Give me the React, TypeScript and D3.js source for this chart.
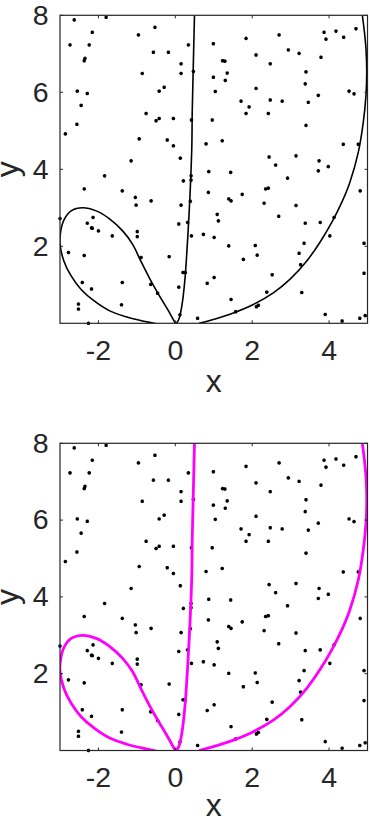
import * as d3 from "d3";

// tick values
const xTicks = [-2, 0, 2, 4];
const yTicks = [2, 4, 6, 8];

// scattered sample points
const ptX = [
  -2.63, -1.8, -0.53, -2.16, -0.96, 2.7, 3.87, 4.18, 4.7, 3.92, 4.38, 1.84, -2.74, -2.24, 0.34, 0.99,
  -0.57, -0.18, 2.94, 3.22, 2.1, -2.35, -2.37, 0.15, 1.23, 1.29, 3.79, 2.47, -0.86, 0.15, 0.47, 0.99,
  1.35, 3.4, 1.3, -0.29, -0.42, -2.55, -2.29, 2.1, 1.04, 4.52, 4.65, 3.38, 2.47, 3.72, 2.78, 1.71,
  3.46, -2.45, 1.92, 1.84, 2.42, -0.76, -0.05, -0.42, -0.5, 0.96, 0.42, -2.56, 3.4, -2.86, -0.94, -0.21,
  -0.05, 0.8, 1.22, 4.37, 4.76, 0.13, -1.15, 2.44, 3.14, 3.74, 2.61, 3.98, -1.84, 0.87, 1.44, 3.72,
  0.41, 0.41, 0.21, 2.92, -2.37, -1.38, 0.86, 2.35, 2.42, 4.81, 1.74, -1.04, -0.63, 1.39, 1.45, 0.39,
  2.31, -1.02, 0.15, 3.14, 1.09, 2.69, -3.0, -2.14, 1.12, -2.29, 3.38, 3.77, 4.13, 0.32, 0.09, -2.18,
  -2.16, -2.0, -0.99, -0.99, -1.64, 0.73, 1.01, 0.42, 4.02, 4.91, 3.35, 2.08, 1.39, -2.78, -2.37, -0.89,
  -0.16, 1.77, 2.13, 3.22, 3.26, 0.2, 0.26, 4.91, 1.01, 2.52, -2.42, -1.38, 0.83, -0.64, 0.09, -2.18,
  -0.46, 2.38, 3.29, 1.45, -1.4, -2.52, -2.52, 2.11, 2.16, 1.57, 0.12, 3.9, 4.8, 4.94, 0.58, -2.26, 4.34,
];
const ptY = [
  7.88, 7.95, 7.69, 7.56, 7.49, 7.49, 7.56, 7.59, 7.65, 7.38, 7.43, 7.4, 7.23, 7.23, 7.23, 7.26,
  7.04, 7.04, 7.1, 7.01, 6.97, 6.88, 6.82, 6.74, 6.82, 6.81, 6.91, 6.74, 6.49, 6.49, 6.54, 6.39,
  6.5, 6.53, 6.31, 6.13, 6.03, 6.03, 5.97, 6.1, 6.02, 6.03, 5.96, 6.22, 5.8, 5.92, 5.77, 5.77,
  5.74, 5.66, 5.62, 5.45, 5.45, 5.45, 5.32, 5.32, 5.26, 5.28, 5.28, 5.17, 5.14, 4.92, 4.79, 4.76,
  4.61, 4.66, 4.74, 4.65, 4.65, 4.29, 4.22, 4.32, 4.35, 4.22, 4.11, 4.07, 3.83, 3.94, 3.92, 3.96,
  3.83, 3.72, 3.7, 3.77, 3.49, 3.44, 3.4, 3.49, 3.51, 3.44, 3.35, 3.27, 3.18, 3.23, 3.18, 3.17,
  3.12, 3.07, 3.07, 3.06, 2.83, 2.78, 2.72, 2.75, 2.66, 2.6, 2.6, 2.62, 2.75, 2.62, 2.58, 2.48,
  2.47, 2.4, 2.38, 2.25, 2.27, 2.31, 2.23, 2.27, 2.27, 2.08, 2.08, 2.02, 2.01, 1.84, 1.76, 1.71,
  1.73, 1.66, 1.77, 1.82, 1.52, 1.32, 1.32, 1.3, 1.19, 1.26, 1.06, 1.06, 1.04, 1.01, 0.94, 0.89,
  0.78, 0.81, 0.8, 0.62, 0.48, 0.5, 0.37, 0.43, 0.47, 0.3, 0.22, 0.23, 0.13, 0.2, 0.13, 0.0, 0.06,
];

// the curve, three branches meeting at the origin
const loopX = [0.01, -0.2, -0.44, -0.67, -0.89, -1.11, -1.37, -1.72, -2.06, -2.41, -2.71, -2.89, -2.98, -3.0, -2.9, -2.71, -2.45, -2.11, -1.72, -1.28, -0.85, -0.55, -0.35];
const loopY = [-0.02, 0.36, 0.76, 1.17, 1.6, 2.05, 2.4, 2.72, 2.92, 3.0, 2.92, 2.7, 2.4, 2.08, 1.62, 1.23, 0.88, 0.58, 0.33, 0.17, 0.06, 0.0, -0.06];
const stemX = [0.01, 0.09, 0.17, 0.25, 0.31, 0.36, 0.4, 0.43, 0.44, 0.46, 0.48, 0.5];
const stemY = [-0.02, 0.1, 0.45, 1.14, 2.01, 2.88, 3.74, 4.61, 5.48, 6.35, 7.22, 8.05];
const arcX = [0.62, 0.99, 1.51, 2.03, 2.55, 2.98, 3.42, 3.76, 4.07, 4.33, 4.54, 4.76, 4.89, 4.96, 4.98, 4.96, 4.92, 4.86];
const arcY = [0, 0.1, 0.27, 0.49, 0.79, 1.14, 1.62, 2.1, 2.62, 3.14, 3.66, 4.44, 5.22, 5.92, 6.52, 7.13, 7.56, 8.05];

const FONT = "'Liberation Sans', Arial, Helvetica, sans-serif";
const INK = "#262626";
const STAR = "M-1.8,0H1.8M0,-1.8V1.8M-1.3,-1.3L1.3,1.3M-1.3,1.3L1.3,-1.3";

function Panel({ top, bottom, color, lw, id }: { top: number; bottom: number; color: string; lw: number; id: string }) {
  const left = 60;
  const right = 367.5;
  const x = d3.scaleLinear().domain([-3, 5]).range([left, right]);
  const y = d3.scaleLinear().domain([0, 8]).range([bottom, top]);

  const path = (xs: number[], ys: number[]) =>
    d3
      .line<number>()
      .x((i) => x(xs[i]))
      .y((i) => y(ys[i]))
      .curve(d3.curveCatmullRom.alpha(0.5))(d3.range(xs.length)) || "";

  const tl = 3;

  return (
    <g>
      <defs>
        <clipPath id={id}>
          <rect x={left} y={top} width={right - left} height={bottom - top} />
        </clipPath>
      </defs>
      <rect x={left} y={top} width={right - left} height={bottom - top} fill="#fff" />
      {ptX.map((v, i) => (
        <path key={i} d={STAR} transform={`translate(${x(v)},${y(ptY[i])})`} stroke="#000" strokeWidth={1.05} fill="none" />
      ))}
      <g clipPath={`url(#${id})`} fill="none" stroke={color} strokeWidth={lw} strokeLinejoin="round">
        <path d={path(loopX, loopY)} />
        <path d={path(stemX, stemY)} />
        <path d={path(arcX, arcY)} />
      </g>
      <rect x={left} y={top} width={right - left} height={bottom - top} fill="none" stroke={INK} strokeWidth={1.2} />
      {xTicks.map((t) => (
        <g key={"x" + t}>
          <line x1={x(t)} x2={x(t)} y1={bottom} y2={bottom - tl} stroke={INK} />
          <line x1={x(t)} x2={x(t)} y1={top} y2={top + tl} stroke={INK} />
          <text x={x(t)} y={bottom + 36.5} textAnchor="middle" fontSize={28.5} fontFamily={FONT} fill={INK}>
            {t}
          </text>
        </g>
      ))}
      {yTicks.map((t) => (
        <g key={"y" + t}>
          <line x1={left} x2={left + tl} y1={y(t)} y2={y(t)} stroke={INK} />
          <line x1={right} x2={right - tl} y1={y(t)} y2={y(t)} stroke={INK} />
          <text x={48.5} y={y(t) + 9.3} textAnchor="end" fontSize={28.5} fontFamily={FONT} fill={INK}>
            {t}
          </text>
        </g>
      ))}
      <text x={(left + right) / 2} y={Math.min(bottom + 68.5, 816)} textAnchor="middle" fontSize={32} fontFamily={FONT} fill={INK}>
        x
      </text>
      <text
        transform={`translate(17.5,${(top + bottom) / 2}) rotate(-90)`}
        textAnchor="middle"
        fontSize={32}
        fontFamily={FONT}
        fill={INK}
      >
        y
      </text>
    </g>
  );
}

export default function App() {
  return (
    <svg width={370} height={820} style={{ position: "absolute", left: 0, top: 0, background: "#fff" }}>
      <rect width={370} height={820} fill="#fff" />
      <Panel top={15.3} bottom={323.3} color="#000" lw={1.6} id="clipA" />
      <Panel top={443.3} bottom={750.5} color="#ff00ff" lw={2.8} id="clipB" />
    </svg>
  );
}
